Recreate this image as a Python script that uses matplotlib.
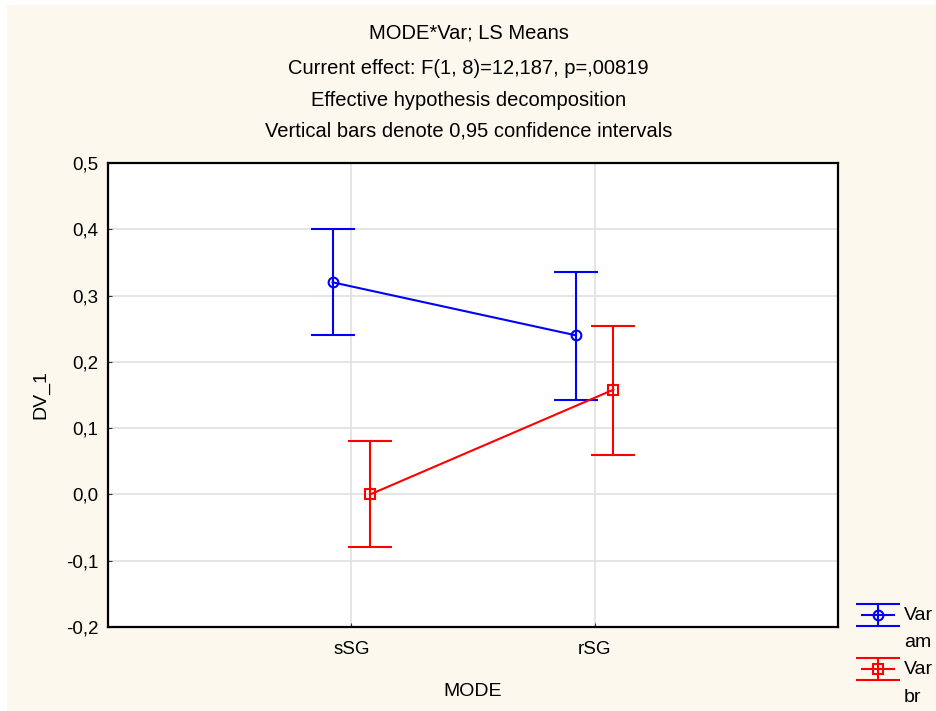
import matplotlib.pyplot as plt
import matplotlib.ticker as mticker
from matplotlib.patches import Rectangle
from matplotlib.legend_handler import HandlerErrorbar

plt.rcParams['font.family'] = ['Liberation Sans', 'DejaVu Sans']

# LS means with 0,95 confidence limits
modes = ["sSG", "rSG"]
am_mean = [0.32, 0.24]
am_low = [0.24, 0.143]
am_high = [0.40, 0.336]
br_mean = [0.0, 0.158]
br_low = [-0.08, 0.06]
br_high = [0.08, 0.254]

titles = ["MODE*Var; LS Means",
          "Current effect: F(1, 8)=12,187, p=,00819",
          "Effective hypothesis decomposition",
          "Vertical bars denote 0,95 confidence intervals"]


class TopErrorbar(HandlerErrorbar):
    # put the legend key next to the first line of a two-line label
    def create_artists(self, legend, orig_handle, xdescent, ydescent,
                       width, height, fontsize, trans):
        return super().create_artists(legend, orig_handle, xdescent,
                                      ydescent - 1.45 * fontsize, width, height,
                                      fontsize, trans)


bg = "#fdf8ee"
fig = plt.figure(figsize=(9.37, 7.11), dpi=100, facecolor=bg)
# thin white margin along top and left edges
fig.patches.append(Rectangle((0, 0), 7 / 937, 1, transform=fig.transFigure,
                             facecolor="white", edgecolor="none", zorder=-1))
fig.patches.append(Rectangle((0, 1 - 5 / 711), 1, 5 / 711, transform=fig.transFigure,
                             facecolor="white", edgecolor="none", zorder=-1))

ax = fig.add_axes([108 / 937, 1 - 627 / 711, 730 / 937, 464 / 711])
ax.set_facecolor("white")

x = list(range(len(modes)))
off = 0.077
xa = [v - off for v in x]
xb = [v + off for v in x]

def err(mean, low, high):
    return [[m - l for m, l in zip(mean, low)], [h - m for m, h in zip(mean, high)]]

ea = ax.errorbar(xa, am_mean, yerr=err(am_mean, am_low, am_high), color="#0000ff",
                 marker="o", markersize=7, markerfacecolor="none", markeredgewidth=1.5,
                 linewidth=1.5, elinewidth=1.5, capsize=16, capthick=1.5, zorder=3)
eb = ax.errorbar(xb, br_mean, yerr=err(br_mean, br_low, br_high), color="#ff0000",
                 marker="s", markersize=7, markerfacecolor="none", markeredgewidth=1.5,
                 linewidth=1.5, elinewidth=1.5, capsize=16, capthick=1.5, zorder=3)

ax.set_xlim(-1, 2)
ax.set_ylim(-0.2, 0.5)
ax.set_xticks(x)
ax.set_xticklabels(modes)
ax.set_yticks([-0.2, -0.1, 0.0, 0.1, 0.2, 0.3, 0.4, 0.5])
ax.yaxis.set_major_formatter(mticker.FuncFormatter(lambda v, p: f"{v:.1f}".replace(".", ",").replace("-0,0", "0,0")))
ax.grid(True, color="#e0e0e0", linewidth=1.2, zorder=0)
ax.set_axisbelow(True)
ax.tick_params(direction="in", length=3, labelsize=13.5, colors="#333333", labelcolor="black")
ax.tick_params(axis="x", pad=10)
ax.tick_params(axis="y", pad=7)
for s in ax.spines.values():
    s.set_linewidth(1.6)
    s.set_color("black")

ax.set_ylabel("DV_1", fontsize=14, labelpad=12)
ax.set_xlabel("MODE", fontsize=14, labelpad=18)

ys = [33, 69, 100, 131]
for t, yy in zip(titles, ys):
    fig.text(0.5, 1 - yy / 711, t, ha="center", va="center", fontsize=14.5)

hm = {ea: TopErrorbar(xerr_size=0.9, yerr_size=0.58), eb: TopErrorbar(xerr_size=0.9, yerr_size=0.58)}
leg = fig.legend([ea, eb], ["Var\nam", "Var\nbr"], loc="upper left",
                 bbox_to_anchor=(862 / 937, 1 - 607 / 711), frameon=False, fontsize=14,
                 handlelength=1.65, handletextpad=0.5, labelspacing=0.5, borderpad=0,
                 borderaxespad=0, handler_map=hm)
for t in leg.get_texts():
    t.set_linespacing(1.8)

fig.savefig("out.png", dpi=100, facecolor=bg)
